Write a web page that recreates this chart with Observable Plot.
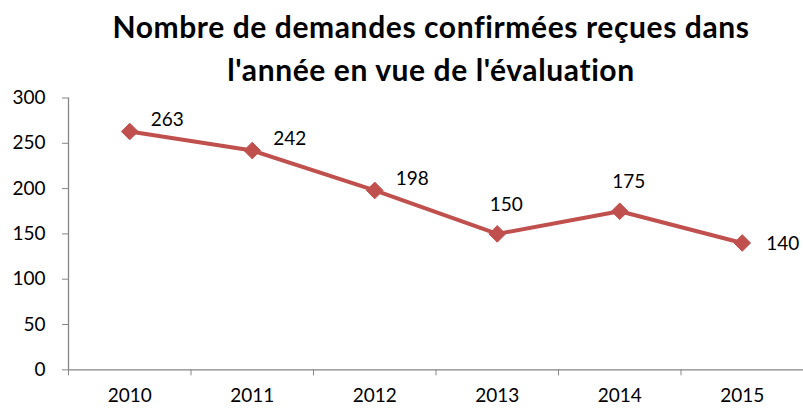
<!DOCTYPE html>
<html><head><meta charset="utf-8">
<script src="https://cdn.jsdelivr.net/npm/d3@7"></script>
<script src="https://cdn.jsdelivr.net/npm/@observablehq/plot@0.6"></script>
<style>
body{margin:0;background:#fff;font-family:Lato,sans-serif;}
#title{position:absolute;left:60px;width:742px;top:5px;text-align:center;font-weight:bold;font-size:30px;letter-spacing:0.6px;line-height:43px;color:#000;}
#chart{position:absolute;left:0;top:85px;}
</style></head>
<body>
<div id="title">Nombre de demandes confirmées reçues dans<br>l'année en vue de l'évaluation</div>
<div id="chart"></div>
<script>
const years = [2010, 2011, 2012, 2013, 2014, 2015];
const values = [263, 242, 198, 150, 175, 140];
const yTicks = [0, 50, 100, 150, 200, 250, 300];

const data = years.map((year, i) => ({year, value: values[i], i}));
const red = "#C0504D";
const grey = "#868686";
const boundaries = d3.range(years.length + 1).map(k => years[0] - 0.5 + k);
const rightIdx = new Set([0, 1, 2]);
const aboveIdx = new Set([3, 4]);
const farIdx = new Set([5]);

const chart = Plot.plot({
  width: 803,
  height: 323,
  marginLeft: 68,
  marginRight: 0,
  marginTop: 12.5,
  marginBottom: 38.7,
  style: {fontFamily: "Lato, sans-serif", fontSize: "19px", color: "#000", background: "#fff"},
  x: {type: "linear", domain: [boundaries[0], boundaries[boundaries.length - 1]]},
  y: {domain: [0, 300]},
  marks: [
    Plot.ruleY([0], {stroke: grey, strokeWidth: 1.3}),
    Plot.ruleX([boundaries[0]], {y1: 0, y2: 300, stroke: grey, strokeWidth: 1.3}),
    Plot.axisY({ticks: yTicks, tickSize: 6, tickPadding: 17, stroke: grey, tickFormat: d => String(d), fill: "#000", fontSize: 19, label: null}),
    Plot.axisX({ticks: years, tickSize: 0, tickPadding: 19, tickFormat: d => String(d), fill: "#000", fontSize: 19, label: null}),
    Plot.axisX({ticks: boundaries, tickSize: 6, stroke: grey, tickFormat: () => "", label: null}),
    Plot.line(data, {x: "year", y: "value", stroke: red, strokeWidth: 4}),
    Plot.dot(data, {x: "year", y: "value", symbol: "diamond2", r: 7.5, fill: red, stroke: red, strokeWidth: 1}),
    Plot.text(data.filter(d => rightIdx.has(d.i)), {x: "year", y: "value", text: d => String(d.value), textAnchor: "start", dx: 21, dy: -12, fontSize: 19, fill: "#000"}),
    Plot.text(data.filter(d => aboveIdx.has(d.i)), {x: "year", y: "value", text: d => String(d.value), dx: 9, dy: -29, fontSize: 19, fill: "#000"}),
    Plot.text(data.filter(d => farIdx.has(d.i)), {x: "year", y: "value", text: d => String(d.value), textAnchor: "start", dx: 24, dy: 1, fontSize: 19, fill: "#000"})
  ]
});
document.getElementById("chart").appendChild(chart);
</script>
</body></html>
